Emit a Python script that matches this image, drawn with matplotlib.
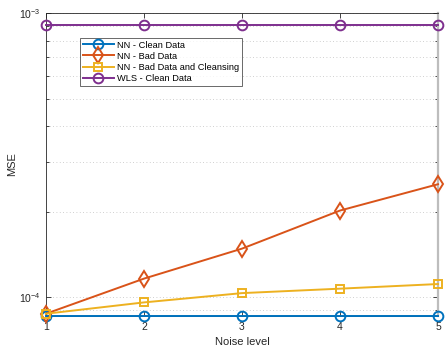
import matplotlib
matplotlib.use("Agg")
import matplotlib.pyplot as plt
from matplotlib.ticker import LogLocator, NullFormatter, FixedLocator

plt.rcParams['font.family'] = ['Liberation Sans', 'DejaVu Sans']
plt.rcParams['mathtext.fontset'] = 'custom'
plt.rcParams['mathtext.rm'] = 'Liberation Sans'

noise_level = [1, 2, 3, 4, 5]
nn_clean = [8.6e-5, 8.6e-5, 8.6e-5, 8.6e-5, 8.6e-5]
nn_bad = [8.76e-5, 1.164e-4, 1.484e-4, 2.02e-4, 2.5e-4]
nn_bad_cleansing = [8.76e-5, 9.6e-5, 1.035e-4, 1.073e-4, 1.114e-4]
wls_clean = [9.1e-4, 9.1e-4, 9.1e-4, 9.1e-4, 9.1e-4]

labels = ['NN - Clean Data', 'NN - Bad Data',
          'NN - Bad Data and Cleansing', 'WLS - Clean Data']
colors = ['#0072BD', '#D95319', '#EDB120', '#7E2F8E']
markers = ['o', 'd', 's', 'o']
msizes = [7, 8, 6, 7]

fig = plt.figure(figsize=(4.45, 3.49), dpi=100)
ax = fig.add_axes([0.1034, 0.0946, 0.8809, 0.868])

series = [nn_clean, nn_bad, nn_bad_cleansing, wls_clean]
for y, lab, c, m, ms in zip(series, labels, colors, markers, msizes):
    ax.plot(noise_level, y, color=c, marker=m, markersize=ms,
            markerfacecolor='none', markeredgewidth=1.4, linewidth=1.4,
            label=lab, clip_on=False, zorder=3)

ax.set_yscale('log')
ax.set_xlim(1, 5)
ax.set_ylim(8.6e-5, 1e-3)
ax.set_xticks(noise_level)
ax.yaxis.set_major_locator(FixedLocator([1e-4, 1e-3]))
ax.yaxis.set_minor_locator(LogLocator(base=10, subs=range(2, 10)))
ax.yaxis.set_minor_formatter(NullFormatter())
ax.set_yticklabels([r'$10^{-4}$', r'$10^{-3}$'])

ax.grid(True, which='both', axis='y', linestyle=(0, (1, 3)),
        color='#c0c0c0', linewidth=0.6)
ax.tick_params(which='both', direction='in', top=True, right=True,
               labelsize=7.5, colors='#262626', width=0.6)
ax.tick_params(which='major', length=3.5, pad=4)
ax.tick_params(which='minor', length=2)
for s in ax.spines.values():
    s.set_color('#262626')
    s.set_linewidth(0.6)
ax.spines['right'].set_color('#bdbdbd')
ax.spines['right'].set_linewidth(1.6)

ax.set_xlabel('Noise level', fontsize=8, labelpad=4, color='#262626')
ax.set_ylabel('MSE', fontsize=8, labelpad=1, color='#262626')

leg = ax.legend(loc='upper left', bbox_to_anchor=(0.087, 0.918),
                fontsize=6.7, frameon=True, fancybox=False,
                edgecolor='#262626', borderpad=0.3, labelspacing=0.22,
                handlelength=3.3, handletextpad=0.4, borderaxespad=0)
leg.get_frame().set_linewidth(0.6)

fig.savefig('out.png', dpi=100)
